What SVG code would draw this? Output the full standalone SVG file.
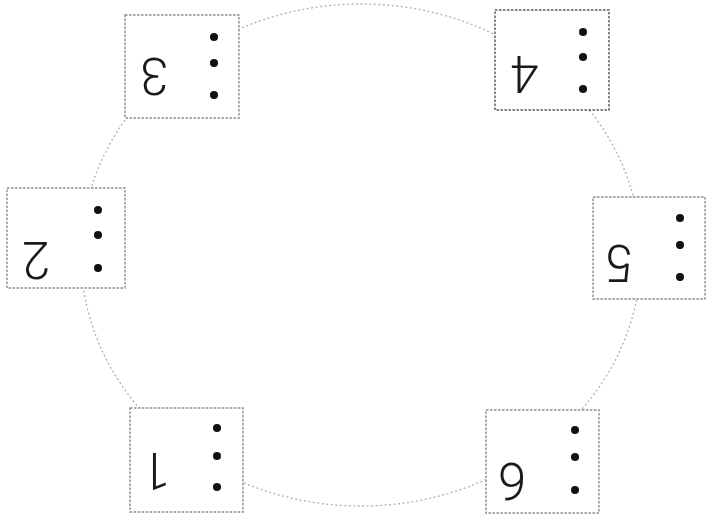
<svg xmlns="http://www.w3.org/2000/svg" width="707" height="526" viewBox="0 0 707 526">
  <style>
    .ring { fill: none; stroke: #b0b0b0; stroke-width: 1.3; stroke-dasharray: 2 2.5; }
    .box { fill: #ffffff; stroke: #8a8a8a; stroke-width: 1.4; stroke-dasharray: 2.5 1.5; }
    .num { font-family: Roboto, "Liberation Sans", Arial, sans-serif; font-weight: 300; font-size: 51px; fill: #1a1a1a; text-anchor: middle; }
    .dot { fill: #111111; }
  </style>
  <rect width="707" height="526" fill="#ffffff"/>
  <g id="connectors">
    <ellipse class="ring" cx="361" cy="255" rx="280" ry="251"/>
  </g>
  <g id="node-1">
    <rect class="box" x="130" y="408" width="113" height="104"/>
    <text class="num" x="156" y="489" transform="rotate(180 156 471)">1</text>
    <circle class="dot" cx="217" cy="428" r="4"/>
    <circle class="dot" cx="217" cy="456" r="4"/>
    <circle class="dot" cx="217" cy="487" r="4"/>
  </g>
  <g id="node-2">
    <rect class="box" x="7" y="188" width="118" height="100"/>
    <text class="num" x="36" y="278" transform="rotate(180 36 260)">2</text>
    <circle class="dot" cx="98" cy="210" r="4"/>
    <circle class="dot" cx="98" cy="235" r="4"/>
    <circle class="dot" cx="98" cy="268" r="4"/>
  </g>
  <g id="node-3">
    <rect class="box" x="125" y="15" width="114" height="103"/>
    <text class="num" x="154" y="93.5" transform="rotate(180 154 75.5)">3</text>
    <circle class="dot" cx="214" cy="37" r="4"/>
    <circle class="dot" cx="214" cy="63" r="4"/>
    <circle class="dot" cx="214" cy="95" r="4"/>
  </g>
  <g id="node-4">
    <rect class="box" x="495" y="10" width="114" height="100" style="stroke:#555555"/>
    <text class="num" x="525" y="91.5" transform="rotate(180 525 73.5)">4</text>
    <circle class="dot" cx="583" cy="32" r="4"/>
    <circle class="dot" cx="583" cy="57" r="4"/>
    <circle class="dot" cx="583" cy="89" r="4"/>
  </g>
  <g id="node-5">
    <rect class="box" x="593" y="197" width="112" height="102"/>
    <text class="num" x="620" y="280.5" transform="rotate(180 620 262.5)">5</text>
    <circle class="dot" cx="680" cy="218" r="4"/>
    <circle class="dot" cx="680" cy="245" r="4"/>
    <circle class="dot" cx="680" cy="277" r="4"/>
  </g>
  <g id="node-6">
    <rect class="box" x="486" y="410" width="113" height="103"/>
    <text class="num" x="512" y="499" transform="rotate(180 512 481)">6</text>
    <circle class="dot" cx="575" cy="430" r="4"/>
    <circle class="dot" cx="575" cy="457" r="4"/>
    <circle class="dot" cx="575" cy="490" r="4"/>
  </g>
</svg>
